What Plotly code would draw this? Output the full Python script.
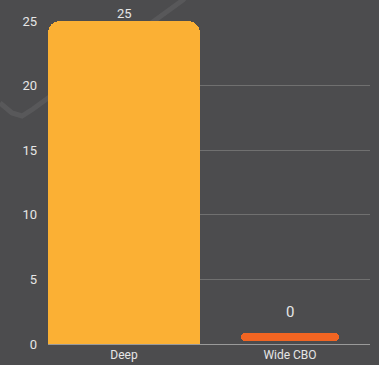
import plotly.graph_objects as go

categories = ["Deep", "Wide CBO"]
values = [25, 0]
bar_colors = ["#FBB034", "#F26522"]
bar_widths = [0.916, 0.59]
corner_radii = [12, 4]
label_sizes = [13, 15]
label_shift = [-2, 10]
min_bar_height = 0.62  # visual minimum height used for zero-valued bars
min_bar_base = 0.23
y_ticks = [0, 5, 10, 15, 20, 25]

BG = "#4c4c4e"
TXT = "#e6e6e6"

W, H = 379, 365
ML, MR, MT, MB = 48, 9, 21, 21
pw, ph = W - ML - MR, H - MT - MB


def px(x, y):
    return (x - ML) / pw, (H - MB - y) / ph

fig = go.Figure()

# faint decorative background stroke
pts = [(0, 103), (12, 113), (22, 116), (33, 109), (183, 0), (190, -8)]
path = ""
for i, (x, y) in enumerate(pts):
    a, b = px(x, y)
    path += ("M" if i == 0 else "L") + f"{a:.4f},{b:.4f} "
fig.add_shape(type="path", path=path, xref="paper", yref="paper",
              line=dict(color="rgba(255,255,255,0.07)", width=5), layer="below")

for cat, v, col, w, r, fs, sh in zip(categories, values, bar_colors, bar_widths,
                                     corner_radii, label_sizes, label_shift):
    if v > 0:
        base, height = None, v
        top = v
    else:
        base, height = [min_bar_base], min_bar_height
        top = min_bar_base + min_bar_height
    fig.add_trace(go.Bar(
        x=[cat], y=[height], base=base, width=[w],
        marker=dict(color=col, line=dict(width=0), cornerradius=r),
        hoverinfo="skip", showlegend=False,
    ))
    fig.add_annotation(x=cat, y=top, text=str(v), showarrow=False,
                       yanchor="bottom", yshift=sh,
                       font=dict(color=TXT, size=fs, family="Roboto"))

fig.update_layout(
    width=W, height=H,
    margin=dict(l=ML, r=MR, t=MT, b=MB, autoexpand=False),
    paper_bgcolor=BG, plot_bgcolor=BG,
    font=dict(family="Roboto", color=TXT, size=12),
    bargap=0, barmode="overlay",
    xaxis=dict(range=[-0.458, 1.482], showgrid=False, showline=True,
               linecolor="#9a9a9a", linewidth=1, ticks="", automargin=False,
               tickfont=dict(size=12, color=TXT), fixedrange=True),
    yaxis=dict(range=[0, 25], tickvals=y_ticks, showgrid=True,
               gridcolor="#707070", gridwidth=1, zeroline=False, automargin=False,
               showline=False, ticks="", ticklabelstandoff=10,
               tickfont=dict(size=13, color=TXT), fixedrange=True),
)

fig.write_html("out.html")
